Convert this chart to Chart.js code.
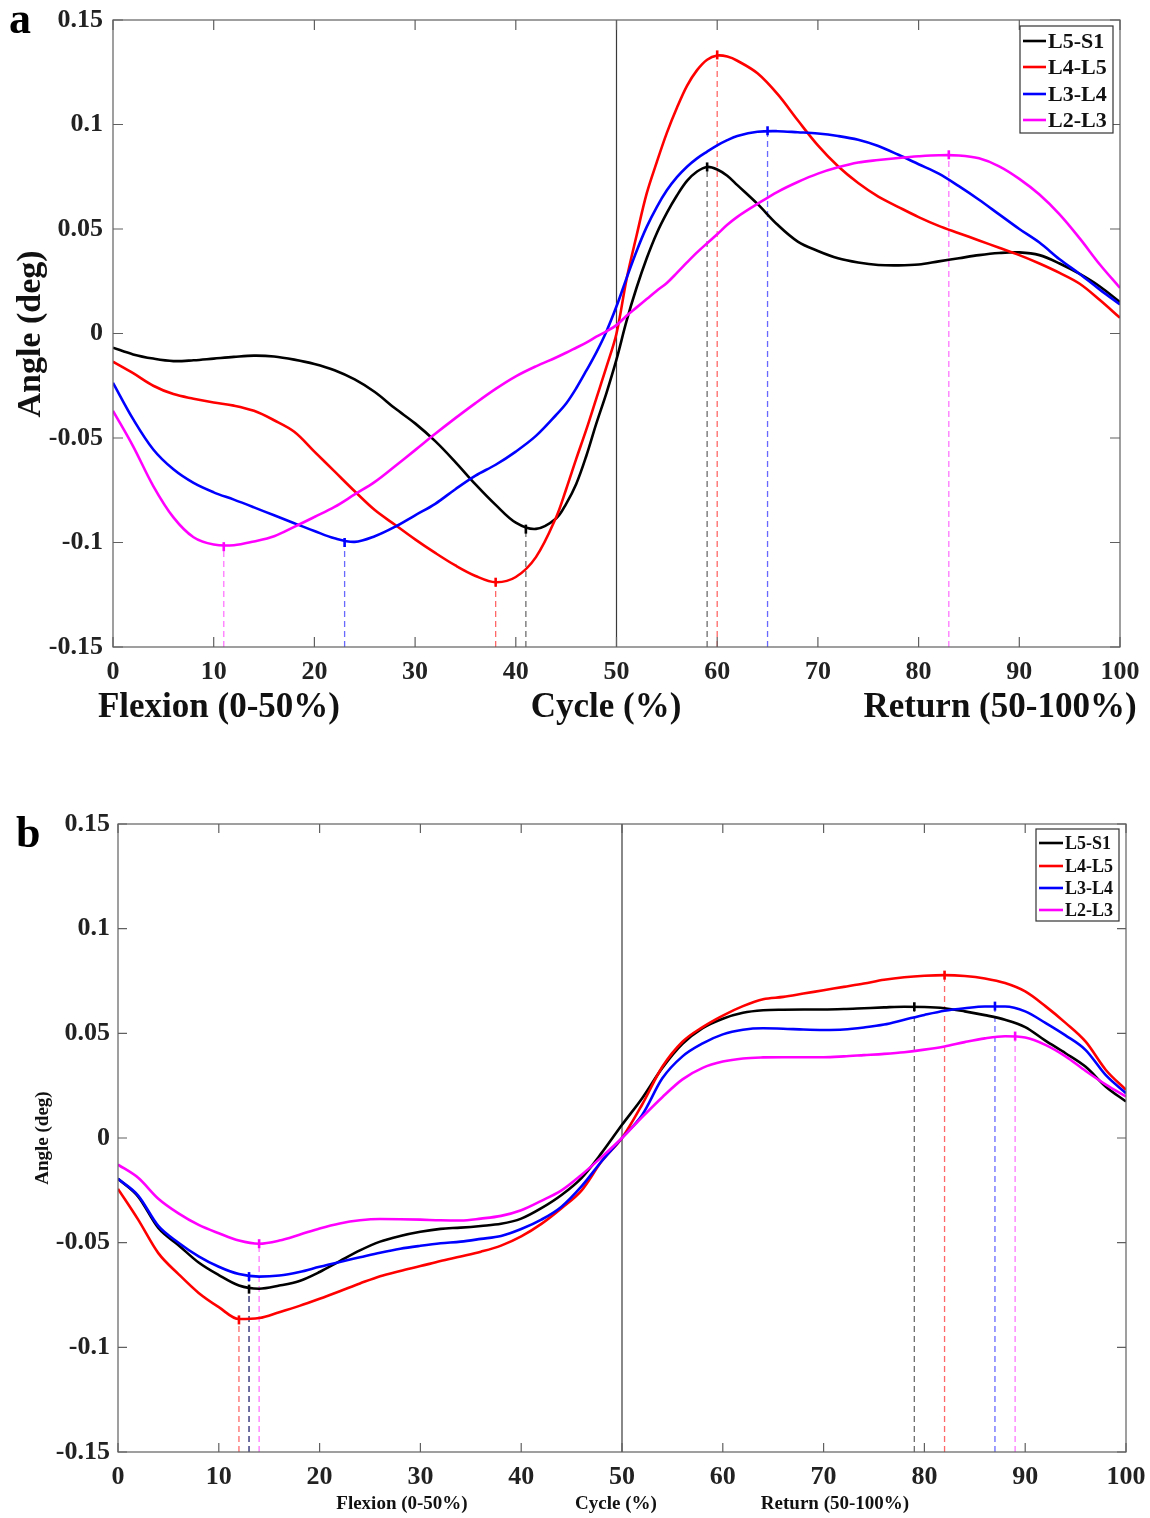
<!DOCTYPE html>
<html><head><meta charset="utf-8">
<script src="https://cdn.jsdelivr.net/npm/chart.js@4.4.1/dist/chart.umd.min.js"></script>
<style>
html,body{margin:0;padding:0;background:#fff;}
#wrap{position:relative;width:1150px;height:1518px;overflow:hidden;}
.c{position:absolute;left:0;width:1150px;}
</style></head><body>
<div id="wrap">
<div class="c" style="top:0;height:760px"><canvas id="ca"></canvas></div>
<div class="c" style="top:760px;height:758px"><canvas id="cb"></canvas></div>
</div>
<script>
// ---------- shared labels / styles ----------
const seriesNames = ['L5-S1','L4-L5','L3-L4','L2-L3'];
const seriesColors = ['#000000','#ff0000','#0000ff','#ff00ff'];
const dashColors = ['rgba(60,60,60,0.75)','rgba(255,40,40,0.7)','rgba(40,40,255,0.7)','rgba(255,60,255,0.7)'];
const xTickLabels = ['0','10','20','30','40','50','60','70','80','90','100'];
const yTickLabels = ['-0.15','-0.1','-0.05','0','0.05','0.1','0.15'];
const phaseLabels = ['Flexion (0-50%)','Cycle (%)','Return (50-100%)'];
const yAxisTitle = 'Angle (deg)';
const yMin = -0.15, yMax = 0.15, yStep = 0.05;

// ---------- panel a data ----------
const cycleA = [0,2,4,6,8,10,12,14,16,18,20,22,24,26,28,30,32,34,36,38,40,42,44,45,46,47,48,49,50,51,52,53,54,55,56,57,58,59,60,61,62,64,66,68,70,72,74,76,78,80,82,84,86,88,90,92,94,96,98,100];
const a_L5S1 = [-0.0068,-0.0100,-0.0120,-0.0132,-0.0128,-0.0120,-0.0112,-0.0106,-0.0110,-0.0125,-0.0146,-0.0176,-0.0220,-0.0280,-0.0358,-0.0430,-0.0515,-0.0615,-0.0722,-0.0820,-0.0905,-0.0935,-0.0885,-0.0815,-0.0720,-0.0586,-0.0430,-0.0285,-0.0124,0.0060,0.0220,0.0360,0.0480,0.0577,0.0660,0.0730,0.0775,0.0797,0.0785,0.0755,0.0710,0.0620,0.0520,0.0440,0.0395,0.0360,0.0340,0.0328,0.0326,0.0330,0.0345,0.0360,0.0375,0.0385,0.0388,0.0375,0.0335,0.0285,0.0225,0.0150];
const a_L4L5 = [-0.0135,-0.0190,-0.0250,-0.0290,-0.0312,-0.0330,-0.0345,-0.0370,-0.0415,-0.0470,-0.0565,-0.0660,-0.0755,-0.0845,-0.0915,-0.0985,-0.1050,-0.1110,-0.1160,-0.1190,-0.1165,-0.1070,-0.0880,-0.0745,-0.0600,-0.0460,-0.0310,-0.0160,0.0000,0.0260,0.0470,0.0670,0.0820,0.0960,0.1080,0.1185,0.1260,0.1310,0.1330,0.1325,0.1305,0.1245,0.1145,0.1020,0.0900,0.0800,0.0720,0.0655,0.0605,0.0557,0.0515,0.0480,0.0445,0.0410,0.0375,0.0335,0.0290,0.0238,0.0160,0.0075];
const a_L3L4 = [-0.0236,-0.0410,-0.0555,-0.0650,-0.0715,-0.0760,-0.0795,-0.0832,-0.0870,-0.0908,-0.0945,-0.0980,-0.0997,-0.0970,-0.0925,-0.0870,-0.0815,-0.0745,-0.0680,-0.0628,-0.0565,-0.0490,-0.0390,-0.0335,-0.0262,-0.0178,-0.0090,0.0010,0.0130,0.0265,0.0395,0.0510,0.0605,0.0685,0.0748,0.0798,0.0838,0.0870,0.0900,0.0925,0.0945,0.0965,0.0968,0.0963,0.0957,0.0945,0.0927,0.0897,0.0855,0.0810,0.0765,0.0705,0.0640,0.0570,0.0500,0.0435,0.0355,0.0285,0.0210,0.0139];
const a_L2L3 = [-0.0370,-0.0540,-0.0730,-0.0880,-0.0975,-0.1010,-0.1013,-0.0995,-0.0970,-0.0925,-0.0878,-0.0830,-0.0770,-0.0710,-0.0635,-0.0558,-0.0480,-0.0405,-0.0333,-0.0265,-0.0205,-0.0157,-0.0115,-0.0092,-0.0068,-0.0044,-0.0015,0.0010,0.0040,0.0085,0.0125,0.0165,0.0205,0.0242,0.0290,0.0340,0.0388,0.0432,0.0475,0.0520,0.0558,0.0620,0.0678,0.0725,0.0765,0.0795,0.0818,0.0830,0.0840,0.0848,0.0853,0.0852,0.0838,0.0800,0.0740,0.0665,0.0570,0.0455,0.0330,0.0218];
const a_minX = [41,38,23,11];
const a_minY = [-0.0936,-0.1190,-0.1000,-0.1020];
const a_maxX = [59,60,65,83];
const a_maxY = [0.0797,0.1333,0.0970,0.0855];

// ---------- panel b data ----------
const cycleB = [0,2,4,6,8,10,12,14,16,18,20,22,24,26,28,30,32,34,36,38,40,42,44,46,48,50,52,54,56,58,60,62,64,66,68,70,72,74,76,78,80,82,84,86,88,90,92,94,96,98,100];
const b_L5S1 = [-0.0195,-0.0280,-0.0430,-0.0512,-0.0595,-0.0655,-0.0705,-0.0720,-0.0705,-0.0683,-0.0640,-0.0588,-0.0537,-0.0495,-0.0468,-0.0448,-0.0434,-0.0428,-0.0420,-0.0410,-0.0385,-0.0335,-0.0272,-0.0190,-0.0070,0.0063,0.0190,0.0335,0.0450,0.0525,0.0570,0.0598,0.0610,0.0613,0.0614,0.0614,0.0616,0.0620,0.0624,0.0627,0.0626,0.0620,0.0605,0.0587,0.0565,0.0530,0.0465,0.0405,0.0340,0.0245,0.0174];
const b_L4L5 = [-0.0243,-0.0390,-0.0550,-0.0650,-0.0740,-0.0808,-0.0865,-0.0860,-0.0832,-0.0802,-0.0768,-0.0732,-0.0695,-0.0660,-0.0635,-0.0612,-0.0588,-0.0566,-0.0543,-0.0514,-0.0470,-0.0410,-0.0335,-0.0250,-0.0110,0.0000,0.0160,0.0340,0.0460,0.0530,0.0585,0.0630,0.0663,0.0674,0.0690,0.0706,0.0722,0.0738,0.0756,0.0768,0.0775,0.0778,0.0774,0.0762,0.0740,0.0700,0.0630,0.0550,0.0460,0.0325,0.0230];
const b_L3L4 = [-0.0195,-0.0275,-0.0420,-0.0500,-0.0565,-0.0615,-0.0650,-0.0662,-0.0657,-0.0640,-0.0615,-0.0592,-0.0570,-0.0548,-0.0529,-0.0515,-0.0503,-0.0495,-0.0482,-0.0468,-0.0435,-0.0390,-0.0328,-0.0230,-0.0110,0.0000,0.0110,0.0285,0.0390,0.0452,0.0495,0.0517,0.0524,0.0522,0.0518,0.0516,0.0518,0.0528,0.0542,0.0565,0.0588,0.0608,0.0620,0.0628,0.0628,0.0605,0.0550,0.0490,0.0420,0.0300,0.0214];
const b_L2L3 = [-0.0127,-0.0190,-0.0290,-0.0360,-0.0415,-0.0455,-0.0490,-0.0505,-0.0490,-0.0462,-0.0432,-0.0408,-0.0393,-0.0387,-0.0388,-0.0390,-0.0393,-0.0394,-0.0385,-0.0372,-0.0345,-0.0300,-0.0250,-0.0175,-0.0090,0.0000,0.0100,0.0195,0.0280,0.0335,0.0365,0.0380,0.0385,0.0386,0.0386,0.0386,0.0390,0.0396,0.0402,0.0410,0.0422,0.0437,0.0458,0.0476,0.0486,0.0480,0.0445,0.0390,0.0320,0.0255,0.0198];
const b_minX = [13,12,13,14];
const b_minY = [-0.0722,-0.0869,-0.0662,-0.0505];
const b_maxX = [79,82,87,89];
const b_maxY = [0.0627,0.0778,0.0630,0.0487];

const FONT = "'Liberation Serif','Times New Roman',serif";
Chart.defaults.font.family = FONT;

function buildChart(canvasId, spec) {
  const datasets = [];
  datasets.push({data:[{x:50,y:yMin},{x:50,y:yMax}], borderColor:'#3a3a3a', borderWidth:1.2, pointRadius:0, order:30});
  spec.series.forEach((vals,i)=>{
    datasets.push({data:[{x:spec.minX[i],y:yMin},{x:spec.minX[i],y:spec.minY[i]}], borderColor:dashColors[i], borderDash:[6,4], borderWidth:1.3, pointRadius:0, order:20});
    datasets.push({data:[{x:spec.maxX[i],y:yMin},{x:spec.maxX[i],y:spec.maxY[i]}], borderColor:dashColors[i], borderDash:[6,4], borderWidth:1.3, pointRadius:0, order:20});
  });
  spec.series.forEach((vals,i)=>{
    const ds = {label:seriesNames[i], data: spec.x.map((xv,k)=>({x:xv,y:vals[k]})), borderColor:seriesColors[i], borderWidth:2.6, pointRadius:0, order:10-i};
    if (spec.smooth === 'monotone') ds.cubicInterpolationMode = 'monotone'; else ds.tension = spec.smooth;
    datasets.push(ds);
  });
  const mk = [], mkc = [];
  spec.series.forEach((v,i)=>{ mk.push({x:spec.minX[i],y:spec.minY[i]}); mkc.push(seriesColors[i]); mk.push({x:spec.maxX[i],y:spec.maxY[i]}); mkc.push(seriesColors[i]); });
  datasets.push({data:mk, showLine:false, pointStyle:'line', rotation:90, pointRadius:4.5, pointBorderWidth:2.6, pointBorderColor:mkc, pointBackgroundColor:mkc, order:0});

  const decor = {
    id:'decor_'+canvasId,
    afterDraw(chart){
      const ctx = chart.ctx, a = chart.chartArea, xs = chart.scales.x, ys = chart.scales.y;
      ctx.save();
      ctx.strokeStyle = '#606060'; ctx.lineWidth = 1.2;
      ctx.strokeRect(a.left, a.top, a.right-a.left, a.bottom-a.top);
      const tl = spec.tickLen;
      ctx.beginPath();
      for (let v=0; v<=100; v+=10){
        const p = xs.getPixelForValue(v);
        ctx.moveTo(p,a.bottom); ctx.lineTo(p,a.bottom-tl);
        ctx.moveTo(p,a.top); ctx.lineTo(p,a.top+tl);
      }
      for (let k=0; k<yTickLabels.length; k++){
        const p = ys.getPixelForValue(yMin + k*yStep);
        ctx.moveTo(a.left,p); ctx.lineTo(a.left+tl,p);
        ctx.moveTo(a.right,p); ctx.lineTo(a.right-tl,p);
      }
      ctx.stroke();
      // legend
      const L = spec.legend;
      ctx.fillStyle='#fff'; ctx.fillRect(L.x,L.y,L.w,L.h);
      ctx.strokeStyle='#333'; ctx.lineWidth=1.2; ctx.strokeRect(L.x,L.y,L.w,L.h);
      ctx.font = 'bold '+L.font+'px '+FONT; ctx.textBaseline='middle'; ctx.textAlign='left';
      seriesNames.forEach((n,i)=>{
        const yy = L.rows[i];
        ctx.strokeStyle = seriesColors[i]; ctx.lineWidth=2.6;
        ctx.beginPath(); ctx.moveTo(L.lx0,yy); ctx.lineTo(L.lx1,yy); ctx.stroke();
        ctx.fillStyle='#111'; ctx.fillText(n, L.tx, yy+1);
      });
      // axis titles
      ctx.fillStyle='#111';
      ctx.font = 'bold '+spec.titleFont+'px '+FONT; ctx.textAlign='center'; ctx.textBaseline='middle';
      phaseLabels.forEach((t,i)=>{ ctx.fillText(t, spec.phaseX[i], spec.phaseY); });
      ctx.save();
      ctx.font = 'bold '+spec.yTitleFont+'px '+FONT;
      ctx.translate(spec.yTitleX, spec.yTitleY); ctx.rotate(-Math.PI/2);
      ctx.fillText(yAxisTitle, 0, 0);
      ctx.restore();
      // panel letter
      ctx.font = 'bold '+spec.letterFont+'px '+FONT; ctx.textAlign='left'; ctx.textBaseline='alphabetic';
      ctx.fillStyle='#000';
      ctx.fillText(spec.letter, spec.letterX, spec.letterY);
      ctx.restore();
    }
  };

  return new Chart(document.getElementById(canvasId), {
    type:'line',
    data:{datasets},
    options:{
      responsive:true, maintainAspectRatio:false, devicePixelRatio:1, animation:false, events:[],
      layout:{padding:{left:0, top:spec.padTop, right:spec.padRight, bottom:0}, autoPadding:false},
      plugins:{legend:{display:false}, tooltip:{enabled:false}},
      scales:{
        x:{type:'linear', min:0, max:100,
           grid:{display:false, drawTicks:false}, border:{display:false},
           ticks:{stepSize:10, padding:10, color:'#222', font:{size:26, weight:'bold', family:FONT}, maxRotation:0,
                  callback:(v)=>xTickLabels[Math.round(v/10)]},
           afterFit:(s)=>{ s.height = spec.xAxisH; s.paddingLeft = 0; s.paddingRight = 0; }},
        y:{type:'linear', min:yMin, max:yMax,
           grid:{display:false, drawTicks:false}, border:{display:false},
           ticks:{stepSize:yStep, padding:spec.yPad, color:'#222', font:{size:26, weight:'bold', family:FONT},
                  callback:(v)=>yTickLabels[Math.round((v-yMin)/yStep)]},
           afterFit:(s)=>{ s.width = spec.yAxisW; s.paddingTop = 0; s.paddingBottom = 0; }}
      }
    },
    plugins:[decor]
  });
}

buildChart('ca', {
  x:cycleA, series:[a_L5S1,a_L4L5,a_L3L4,a_L2L3], smooth:0.35,
  minX:a_minX, minY:a_minY, maxX:a_maxX, maxY:a_maxY,
  padTop:20, padRight:30, xAxisH:113, yAxisW:113, yPad:10, tickLen:10,
  legend:{x:1020,y:26,w:93,h:107,rows:[41,67,94,120],lx0:1023,lx1:1046,tx:1048,font:22},
  titleFont:35, phaseX:[219,606,1000], phaseY:708,
  yTitleFont:34, yTitleX:31, yTitleY:334,
  letter:'a', letterFont:44, letterX:9, letterY:33
});
buildChart('cb', {
  x:cycleB, series:[b_L5S1,b_L4L5,b_L3L4,b_L2L3], smooth:'monotone',
  minX:b_minX, minY:b_minY, maxX:b_maxX, maxY:b_maxY,
  padTop:64, padRight:24, xAxisH:66, yAxisW:118, yPad:8, tickLen:9,
  legend:{x:1036,y:69,w:83,h:92,rows:[83,106,128,150],lx0:1039,lx1:1063,tx:1065,font:18},
  titleFont:19, phaseX:[402,616,835], phaseY:744,
  yTitleFont:19, yTitleX:43, yTitleY:378,
  letter:'b', letterFont:44, letterX:16, letterY:87
});
</script>
</body></html>
